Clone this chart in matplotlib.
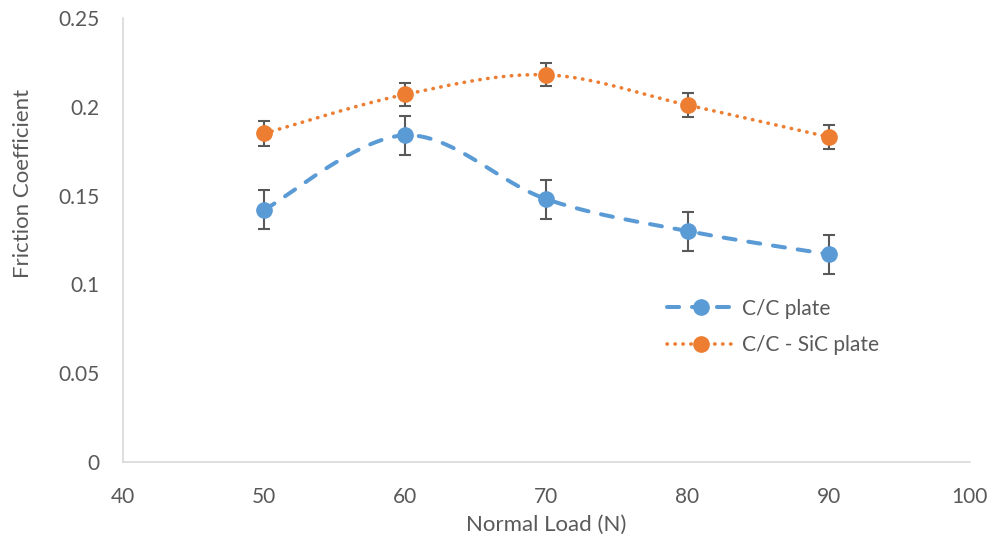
import numpy as np
import matplotlib
matplotlib.use("Agg")
import matplotlib.pyplot as plt

# data
loads = [50, 60, 70, 80, 90]
cc_mu = [0.142, 0.184, 0.148, 0.130, 0.117]
cc_err = [0.011, 0.011, 0.011, 0.011, 0.011]
sic_mu = [0.185, 0.207, 0.218, 0.201, 0.183]
sic_err = [0.007, 0.0065, 0.0065, 0.0065, 0.0065]

BLUE = "#5B9BD5"
ORANGE = "#ED7D31"
GREY = "#595959"
DASH = (3.0, 3.2)
DOT = (0, (0.1, 2.1))


def smooth(x, y, n=40):
    """Excel-like smoothed line: Catmull-Rom bezier through the points."""
    x = np.asarray(x, float)
    y = np.asarray(y, float)
    px = np.concatenate([[x[0]], x, [x[-1]]])
    py = np.concatenate([[y[0]], y, [y[-1]]])
    xs, ys = [], []
    t = np.linspace(0, 1, n)
    for i in range(1, len(x)):
        p0 = np.array([px[i], py[i]])
        p3 = np.array([px[i + 1], py[i + 1]])
        c1 = p0 + (np.array([px[i + 1], py[i + 1]]) - np.array([px[i - 1], py[i - 1]])) / 6
        c2 = p3 - (np.array([px[i + 2], py[i + 2]]) - np.array([px[i], py[i]])) / 6
        b = (((1 - t) ** 3)[:, None] * p0 + (3 * (1 - t) ** 2 * t)[:, None] * c1
             + (3 * (1 - t) * t ** 2)[:, None] * c2 + (t ** 3)[:, None] * p3)
        xs.extend(b[:, 0])
        ys.extend(b[:, 1])
    return xs, ys


plt.rcParams["font.family"] = ["Lato", "DejaVu Sans"]

fig = plt.figure(figsize=(10.05, 5.46), dpi=100)
ax = fig.add_axes([0.1224, 0.1538, 0.8426, 0.8132])

# C/C plate
sx, sy = smooth(loads, cc_mu)
ax.plot(sx, sy, color=BLUE, lw=2.9, dashes=DASH, dash_capstyle="round", zorder=2)
ax.errorbar(loads, cc_mu, yerr=cc_err, fmt="none", ecolor=GREY, elinewidth=1.5,
            capsize=4.4, capthick=1.5, zorder=3)
ax.plot(loads, cc_mu, "o", color=BLUE, ms=11, zorder=4)

# C/C - SiC plate
sx, sy = smooth(loads, sic_mu)
ax.plot(sx, sy, color=ORANGE, lw=2.6, linestyle=DOT, dash_capstyle="round", zorder=2)
ax.errorbar(loads, sic_mu, yerr=sic_err, fmt="none", ecolor=GREY, elinewidth=1.5,
            capsize=4.4, capthick=1.5, zorder=3)
ax.plot(loads, sic_mu, "o", color=ORANGE, ms=11, zorder=4)

# legend proxies
h1, = ax.plot([], [], color=BLUE, lw=2.9, dashes=DASH, marker="o", ms=11,
              dash_capstyle="round", label="C/C plate")
h2, = ax.plot([], [], color=ORANGE, lw=2.6, linestyle=DOT, marker="o", ms=11,
              dash_capstyle="round", label="C/C - SiC plate")
ax.legend(handles=[h1, h2], loc="upper left", bbox_to_anchor=(0.62, 0.41),
          frameon=False, fontsize=15, handlelength=3.3, labelspacing=0.8,
          handletextpad=0.3, labelcolor=GREY)

ax.set_xlim(40, 100)
ax.set_ylim(0, 0.25)
ax.set_xticks([40, 50, 60, 70, 80, 90, 100])
ax.set_yticks([0, 0.05, 0.1, 0.15, 0.2, 0.25])
ax.set_yticklabels(["0", "0.05", "0.1", "0.15", "0.2", "0.25"])
ax.tick_params(axis="y", length=0, labelsize=15, colors=GREY, pad=17)
ax.tick_params(axis="x", length=0, labelsize=15, colors=GREY, pad=18)
for s in ["top", "right"]:
    ax.spines[s].set_visible(False)
for s in ["left", "bottom"]:
    ax.spines[s].set_color("#D9D9D9")
    ax.spines[s].set_linewidth(1.2)

ax.set_xlabel("Normal Load (N)", fontsize=16, color=GREY, labelpad=6)
ax.set_ylabel("Friction Coefficient", fontsize=16, color=GREY)
ax.yaxis.set_label_coords(-0.106, 0.628)

fig.savefig("out.png", dpi=100)
